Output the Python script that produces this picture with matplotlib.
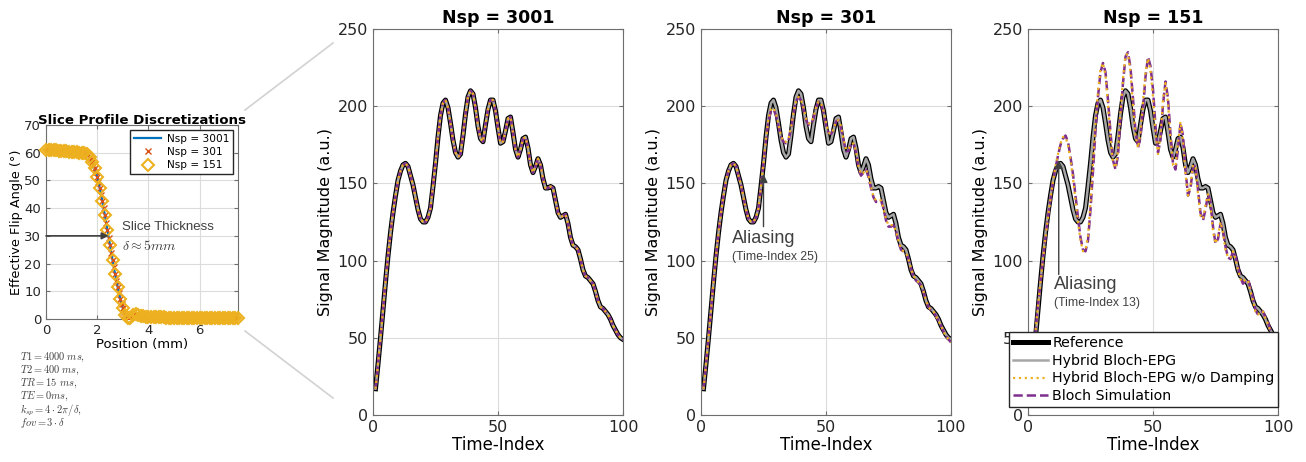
import numpy as np
import matplotlib.pyplot as plt
from matplotlib.lines import Line2D

plt.rcParams['font.family'] = 'DejaVu Sans'
plt.rcParams['mathtext.fontset'] = 'cm'

# slice profile, positions 0..7.5 mm on the Nsp = 301 grid (0.05 mm steps)
profile_pos = np.arange(151) * 0.05
profile_301 = [
    61.0, 61.0, 61.0, 61.0, 60.9, 60.9, 60.9, 60.8, 60.8, 60.8,
    60.7, 60.7, 60.7, 60.6, 60.6, 60.5, 60.5, 60.4, 60.4, 60.3,
    60.3, 60.2, 60.2, 60.1, 60.1, 60.1, 60.0, 60.0, 60.0,
    60.0, 59.9, 59.7, 59.4, 59.0, 58.4, 57.7, 56.8, 55.7, 54.4,
    52.9, 51.2, 49.3, 47.2, 44.9, 42.5, 40.0, 37.4, 34.7, 32.0,
    29.3, 26.6, 23.9, 21.2, 18.6, 16.1, 13.7, 11.4, 9.3, 7.3,
    5.5, 3.9, 2.6, 1.5, 0.7, 0.2, 0.1, 0.4, 0.9, 1.3,
    1.6, 1.7, 1.7, 1.6, 1.4, 1.2, 1.1, 1.0, 0.9, 0.8,
    0.8, 0.7,
    0.7, 0.7, 0.7, 0.7, 0.7, 0.6, 0.6, 0.6, 0.6, 0.6,
    0.6, 0.6, 0.6, 0.5, 0.5, 0.5, 0.5, 0.5, 0.5, 0.5,
    0.5, 0.5, 0.5, 0.4, 0.4, 0.4, 0.4, 0.4, 0.4, 0.4,
    0.4, 0.4, 0.4, 0.4, 0.4, 0.3, 0.3, 0.3, 0.3, 0.3,
    0.3, 0.3, 0.3, 0.3, 0.3, 0.3, 0.3, 0.3, 0.3, 0.3,
    0.2, 0.2, 0.2, 0.2, 0.2, 0.2, 0.2, 0.2, 0.2, 0.2,
    0.2, 0.2, 0.2, 0.2, 0.2, 0.2, 0.2, 0.2, 0.2, 0.2,
]
# the Nsp = 151 grid is every other sample of the 301 grid
pos_151 = profile_pos[::2]
profile_151 = profile_301[::2]

time_index = np.arange(1, 101)

signal_ref = [
    17, 33, 50, 68, 86, 103, 118, 131, 142, 152,
    158, 162, 163, 161, 155, 149, 141, 133, 127, 125,
    125, 128, 134, 148, 163, 180, 194, 202, 204, 199,
    189, 178, 170, 167, 169, 181, 195, 206, 210, 208,
    199, 187, 179, 177, 188, 198, 204, 204, 197, 186,
    176, 177, 184, 192, 193, 183, 172, 167, 172, 179,
    180, 173, 162, 157, 161, 166, 162, 153, 147, 147,
    148, 147, 139, 131, 128, 129, 130, 124, 115, 110,
    109, 107, 101, 94, 90, 89, 87, 85, 80, 74,
    70, 69, 67, 65, 62, 58, 55, 52, 50, 49,
]
signal_hybrid = list(signal_ref)

bloch_301 = [
    17, 33, 50, 68, 86, 103, 118, 131, 142, 152,
    158, 162, 163, 161, 155, 149, 141, 133, 127, 125,
    125, 128, 134, 148, 163, 178, 191, 197, 198, 194,
    187, 180, 177, 176, 178, 185, 195, 203, 206, 204,
    198, 191, 188, 188, 192, 199, 203, 202, 196, 188,
    183, 182, 185, 190, 191, 186, 178, 171, 171, 175,
    176, 170, 160, 155, 157, 159, 154, 147, 141, 138,
    138, 139, 134, 126, 122, 122, 123, 119, 112, 107,
    106, 105, 101, 95, 90, 87, 86, 84, 80, 74,
    70, 68, 67, 64, 61, 58, 54, 51, 49, 47,
]
nodamp_301 = [
    17, 33, 50, 68, 86, 103, 118, 131, 142, 152,
    158, 162, 163, 161, 155, 149, 141, 133, 127, 125,
    125, 128, 134, 148, 163, 179, 192, 198, 199, 195,
    188, 181, 177, 177, 179, 186, 196, 203, 206, 204,
    199, 192, 189, 189, 193, 199, 203, 202, 197, 189,
    183, 182, 185, 190, 191, 187, 179, 172, 172, 175,
    176, 171, 161, 156, 157, 159, 155, 148, 141, 139,
    139, 139, 134, 127, 123, 123, 123, 119, 113, 108,
    106, 105, 101, 95, 90, 88, 86, 84, 80, 74,
    70, 68, 67, 64, 61, 58, 54, 51, 49, 47,
]

bloch_151 = [
    17, 36, 54, 71, 86, 101, 115, 128, 140, 151,
    160, 168, 175, 179, 181, 177, 167, 156, 142, 128,
    115, 107, 106, 113, 133, 158, 184, 206, 222, 228,
    222, 204, 183, 165, 159, 168, 192, 215, 232, 235,
    225, 205, 184, 173, 180, 198, 219, 232, 226, 211,
    187, 170, 178, 201, 216, 205, 182, 163, 159, 172,
    189, 181, 159, 142, 147, 160, 162, 146, 131, 126,
    133, 143, 138, 122, 111, 114, 124, 120, 109, 102,
    101, 106, 103, 96, 89, 85, 87, 88, 82, 76,
    68, 65, 66, 67, 63, 60, 55, 52, 49, 47,
]
nodamp_151 = [
    17, 36, 54, 71, 86, 101, 115, 128, 140, 151,
    161, 169, 176, 180, 180, 175, 165, 153, 139, 125,
    113, 106, 107, 116, 137, 163, 189, 210, 224, 228,
    220, 201, 180, 163, 160, 171, 196, 218, 233, 234,
    222, 201, 181, 173, 183, 203, 222, 231, 223, 206,
    183, 169, 181, 204, 215, 202, 179, 162, 161, 176,
    190, 178, 156, 142, 149, 162, 160, 143, 129, 127,
    136, 143, 135, 119, 111, 116, 125, 118, 107, 102,
    102, 106, 101, 94, 88, 86, 88, 87, 80, 74,
    67, 65, 67, 67, 62, 59, 54, 51, 48, 47,
]

ANNOT = '#404040'
GRID = '#dcdcdc'
EDGE = '#6e6e6e'
W, H = 1306.0, 462.0


def px_box(left, top, right, bottom):
    return [left / W, 1 - bottom / H, (right - left) / W, (bottom - top) / H]


def style_axes(ax, size):
    ax.grid(True, color=GRID, lw=0.8)
    ax.set_axisbelow(True)
    ax.tick_params(direction='in', top=True, right=True, length=3,
                   labelsize=size, color=EDGE, labelcolor='#262626')
    for s in ax.spines.values():
        s.set_color(EDGE)
        s.set_linewidth(0.8)


fig = plt.figure(figsize=(13.06, 4.62), dpi=100)

# ---- slice profile panel
ax0 = fig.add_axes(px_box(46, 125, 238, 319))
ax0.plot(profile_pos, profile_301, color='#0072BD', lw=1.6, label='Nsp = 3001', zorder=2)
ax0.plot(profile_pos, profile_301, 'x', color='#D95319', ms=4.5, mew=1.0,
         label='Nsp = 301', zorder=3)
ax0.plot(pos_151, profile_151, 'D', mfc='none', mec='#EDB120', ms=6.2, mew=1.5,
         label='Nsp = 151', zorder=4, clip_on=False)
ax0.set_xlim(0, 7.5)
ax0.set_ylim(0, 70)
ax0.set_xticks([0, 2, 4, 6])
ax0.set_yticks(range(0, 71, 10))
style_axes(ax0, 9.5)
ax0.set_title('Slice Profile Discretizations', fontsize=9.6, fontweight='bold', pad=1)
ax0.set_xlabel('Position (mm)', fontsize=9.5, labelpad=1)
ax0.set_ylabel('Effective Flip Angle (°)', fontsize=9.3, labelpad=1)
ax0.legend(loc='upper right', fontsize=7.6, fancybox=False, edgecolor='#262626',
           framealpha=1, borderaxespad=0.5, handlelength=2.6, labelspacing=0.3,
           borderpad=0.35, handletextpad=0.5)
ax0.annotate('', xy=(2.45, 30), xytext=(0, 30),
             arrowprops=dict(arrowstyle='-|>', color=ANNOT, lw=1.2,
                             mutation_scale=10, shrinkA=0, shrinkB=0), zorder=6)
ax0.text(2.97, 33.2, 'Slice Thickness', fontsize=9.5, color=ANNOT,
         family='Liberation Sans', va='center')
ax0.text(2.97, 26.5, r'$\delta \approx 5mm$', fontsize=10, color=ANNOT, va='center')

params = [r'$T1 = 4000\ ms,$', r'$T2 = 400\ ms,$', r'$TR = 15\ ms,$',
          r'$TE = 0ms,$', r'$k_{sp} = 4 \cdot 2\pi/\delta,$', r'$fov = 3 \cdot \delta$']
for i, line in enumerate(params):
    fig.text(20 / W, 1 - (357 + 13.2 * i) / H, line, fontsize=7.5, color=ANNOT, va='center')

# zoom connector lines
fig.add_artist(Line2D([245 / W, 333 / W], [1 - 110 / H, 1 - 43 / H], color='#d2d2d2', lw=1.2))
fig.add_artist(Line2D([245 / W, 333 / W], [1 - 331 / H, 1 - 398 / H], color='#d2d2d2', lw=1.2))


def draw_signal(ax, ref, hybrid, nodamp, bloch, title):
    ax.plot(time_index, ref, color='black', lw=3.6, label='Reference', zorder=2)
    ax.plot(time_index, hybrid, color='#a6a6a6', lw=1.8, label='Hybrid Bloch-EPG', zorder=3)
    ax.plot(time_index, nodamp, ':', color='#EDB120', lw=1.6,
            label='Hybrid Bloch-EPG w/o Damping', zorder=5)
    ax.plot(time_index, bloch, '--', color='#7E2F8E', lw=1.8, label='Bloch Simulation', zorder=4)
    ax.set_xlim(0, 100)
    ax.set_ylim(0, 250)
    ax.set_xticks([0, 50, 100])
    ax.set_yticks(range(0, 251, 50))
    style_axes(ax, 11.5)
    ax.set_title(title, fontsize=12.5, fontweight='bold', pad=4)
    ax.set_xlabel('Time-Index', fontsize=12, labelpad=1)
    ax.set_ylabel('Signal Magnitude (a.u.)', fontsize=11.5, labelpad=3)


def aliasing_note(ax, x, y0, y1, tx, ty, label):
    ax.annotate('', xy=(x, y1), xytext=(x, y0),
                arrowprops=dict(arrowstyle='-|>', color=ANNOT, lw=1.0,
                                mutation_scale=12, shrinkA=0, shrinkB=0), zorder=6)
    ax.text(tx, ty, 'Aliasing', fontsize=13, color=ANNOT, family='Liberation Sans', va='center')
    ax.text(tx, ty - 11.8, label, fontsize=8.8, color=ANNOT, family='Liberation Sans', va='center')


ax1 = fig.add_axes(px_box(373, 29, 623, 415))
draw_signal(ax1, signal_ref, signal_hybrid, signal_ref, signal_ref, 'Nsp = 3001')

ax2 = fig.add_axes(px_box(701, 29, 951, 415))
draw_signal(ax2, signal_ref, signal_hybrid, nodamp_301, bloch_301, 'Nsp = 301')
aliasing_note(ax2, 25, 122, 156, 12.4, 114.4, '(Time-Index 25)')

ax3 = fig.add_axes(px_box(1028, 29, 1278, 415))
draw_signal(ax3, signal_ref, signal_hybrid, nodamp_151, bloch_151, 'Nsp = 151')
aliasing_note(ax3, 12.3, 91, 165, 10.3, 84.2, '(Time-Index 13)')

handles, labels = ax3.get_legend_handles_labels()
fig.legend(handles, labels, loc='upper right', bbox_to_anchor=(1278 / W, 1 - 332 / H),
           fontsize=10.2, fancybox=False, edgecolor='#262626', framealpha=1,
           labelspacing=0.28, handlelength=2.5, handletextpad=0.3,
           borderpad=0.25, borderaxespad=0)

fig.savefig('out.png', dpi=100)
